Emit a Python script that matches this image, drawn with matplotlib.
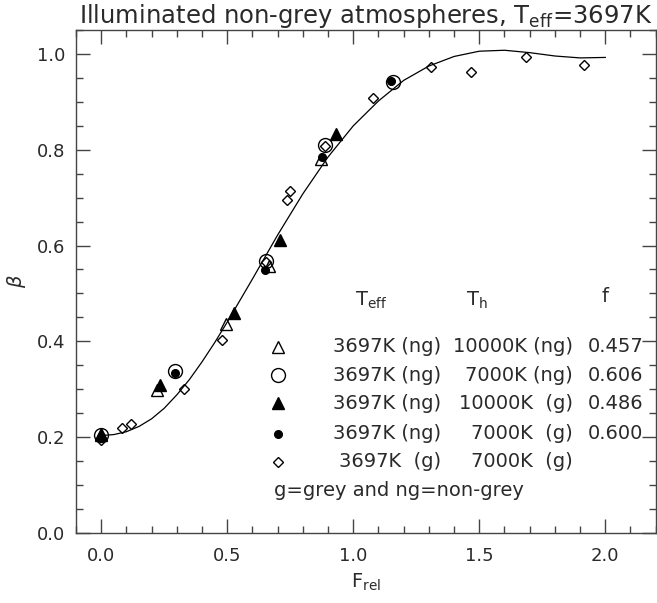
import numpy as np
import matplotlib
matplotlib.use("Agg")
import matplotlib.pyplot as plt
from matplotlib.ticker import MultipleLocator

# fitted curve
curve_x = [0.0, 0.05, 0.1, 0.15, 0.2, 0.25, 0.3, 0.35, 0.4, 0.45, 0.5,
           0.6, 0.7, 0.8, 0.9, 1.0, 1.1, 1.2, 1.3, 1.4, 1.5, 1.6, 1.7, 1.8, 1.9, 2.0]
curve_y = [0.203, 0.205, 0.211, 0.222, 0.238, 0.260, 0.288, 0.320, 0.357, 0.397, 0.440,
           0.530, 0.622, 0.708, 0.785, 0.850, 0.902, 0.945, 0.975, 0.995, 1.006, 1.008,
           1.003, 0.996, 0.992, 0.993]

# 3697K (ng) / 10000K (ng)
tri_open_x = [0.0, 0.221, 0.496, 0.664, 0.873]
tri_open_y = [0.204, 0.299, 0.437, 0.558, 0.781]
# 3697K (ng) / 7000K (ng)
circ_open_x = [0.0, 0.291, 0.655, 0.886, 1.157]
circ_open_y = [0.204, 0.338, 0.567, 0.809, 0.941]
# 3697K (ng) / 10000K (g)
tri_fill_x = [0.0, 0.234, 0.525, 0.711, 0.930]
tri_fill_y = [0.207, 0.308, 0.458, 0.611, 0.833]
# 3697K (ng) / 7000K (g)
dot_x = [0.0, 0.291, 0.648, 0.877, 1.148]
dot_y = [0.200, 0.333, 0.548, 0.786, 0.944]
# 3697K (g) / 7000K (g)
dia_x = [0.0, 0.083, 0.119, 0.328, 0.480, 0.655, 0.737, 0.750, 0.886,
         1.078, 1.310, 1.468, 1.684, 1.915]
dia_y = [0.194, 0.218, 0.227, 0.301, 0.402, 0.565, 0.696, 0.713, 0.807,
         0.908, 0.974, 0.963, 0.994, 0.978]

col_teff = ["3697K (ng)", "3697K (ng)", "3697K (ng)", "3697K (ng)", "3697K  (g)"]
col_th = ["10000K (ng)", "7000K (ng)", "10000K  (g)", "7000K  (g)", "7000K  (g)"]
col_f = ["0.457", "0.606", "0.486", "0.600", ""]
leg_y = [0.388, 0.329, 0.270, 0.207, 0.148]

plt.rcParams["font.family"] = "DejaVu Sans"
txt = "#2a2a2a"
fs = 14

fig = plt.figure(figsize=(6.57, 6.03), dpi=100)
ax = fig.add_axes([0.1157, 0.1166, 0.8823, 0.8334])

ax.plot(curve_x, curve_y, color="black", lw=0.9)

ms_kw = dict(linestyle="none", markeredgewidth=1.0, color="black")
styles = [
    dict(marker="^", markersize=9, markerfacecolor="none"),
    dict(marker="o", markersize=10, markerfacecolor="none"),
    dict(marker="^", markersize=9, markerfacecolor="black"),
    dict(marker="o", markersize=5.5, markerfacecolor="black"),
    dict(marker="D", markersize=5, markerfacecolor="none"),
]
series = [(tri_open_x, tri_open_y), (circ_open_x, circ_open_y),
          (tri_fill_x, tri_fill_y), (dot_x, dot_y), (dia_x, dia_y)]
for (xs, ys), st in zip(series, styles):
    ax.plot(xs, ys, **ms_kw, **st)

# legend drawn as text table
for st, yy, a, b, c in zip(styles, leg_y, col_teff, col_th, col_f):
    ax.plot([0.70], [yy], **ms_kw, **st)
    ax.text(1.347, yy, a, ha="right", va="center", fontsize=fs, color=txt)
    ax.text(1.87, yy, b, ha="right", va="center", fontsize=fs, color=txt)
    ax.text(1.93, yy, c, ha="left", va="center", fontsize=fs, color=txt)
ax.text(1.07, 0.485, r"T$_{\rm eff}$", ha="center", va="center", fontsize=fs, color=txt)
ax.text(1.49, 0.485, r"T$_{\rm h}$", ha="center", va="center", fontsize=fs, color=txt)
ax.text(2.0, 0.493, "f", ha="center", va="center", fontsize=fs, color=txt)
ax.text(0.684, 0.089, "g=grey and ng=non-grey", ha="left", va="center",
        fontsize=fs, color=txt)

ax.set_xlim(-0.1, 2.2)
ax.set_ylim(0.0, 1.05)
ax.xaxis.set_major_locator(MultipleLocator(0.5))
ax.xaxis.set_minor_locator(MultipleLocator(0.1))
ax.yaxis.set_major_locator(MultipleLocator(0.2))
ax.yaxis.set_minor_locator(MultipleLocator(0.05))
ax.xaxis.set_major_formatter(matplotlib.ticker.FormatStrFormatter("%.1f"))
ax.yaxis.set_major_formatter(matplotlib.ticker.FormatStrFormatter("%.1f"))
ax.tick_params(which="both", direction="in", top=True, right=True,
               labelsize=13, labelcolor=txt, color="#444444")
ax.tick_params(which="major", length=10, width=1)
ax.tick_params(which="minor", length=5, width=1)
ax.tick_params(axis="x", pad=10)
ax.tick_params(axis="y", pad=8)
for s in ax.spines.values():
    s.set_color("#444444")
    s.set_linewidth(1)

ax.set_xlabel(r"F$_{\rm rel}$", fontsize=fs, color=txt, labelpad=5)
ax.set_ylabel(r"$\beta$", fontsize=fs, color=txt, labelpad=6)
ax.set_title(r"Illuminated non-grey atmospheres, T$_{\rm eff}$=3697K",
             fontsize=17.5, color=txt, pad=4)

fig.savefig("out.png", dpi=100)
